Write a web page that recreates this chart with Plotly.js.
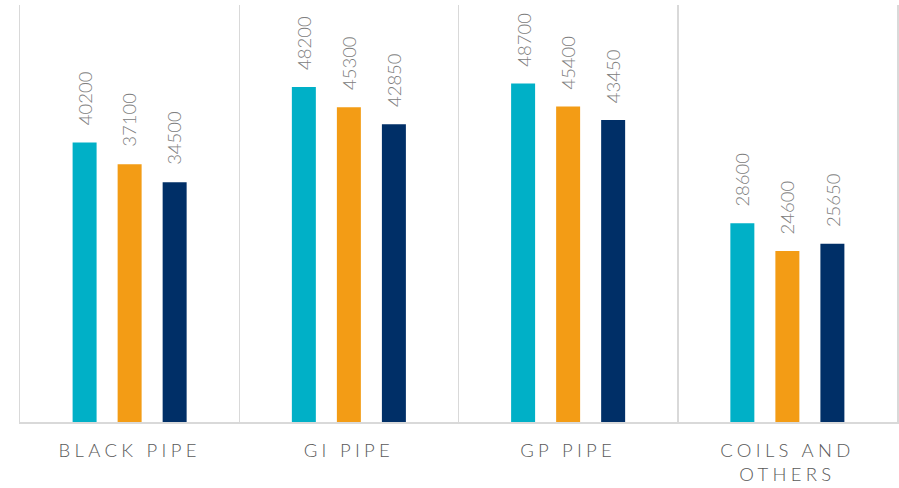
<!DOCTYPE html>
<html>
<head>
<meta charset="utf-8">
<script src="https://cdn.plot.ly/plotly-3.0.1.min.js"></script>
<style>
  html, body { margin: 0; padding: 0; background: #fff; }
  #chart { width: 899px; height: 488px; }
  .xtick text { letter-spacing: 4.3px; }
</style>
</head>
<body>
<div id="chart"></div>
<script>
// Product categories along the x axis
const categories = ["BLACK PIPE", "GI PIPE", "GP PIPE", "COILS AND<br>OTHERS"];

// Three series per category
const seriesA = [40200, 48200, 48700, 28600];
const seriesB = [37100, 45300, 45400, 24600];
const seriesC = [34500, 42850, 43450, 25650];

const seriesList = [seriesA, seriesB, seriesC];
const colors = ["#00b0c7", "#f39c15", "#002f67"];
const labelShift = [-45, 0, 45];

const traces = seriesList.map((vals, i) => ({
  type: "bar",
  x: categories,
  y: vals,
  marker: { color: colors[i] },
  hoverinfo: "skip"
}));

// Vertical value labels above each bar
const annotations = [];
seriesList.forEach((vals, i) => {
  vals.forEach((v, j) => {
    annotations.push({
      x: categories[j],
      y: v,
      xref: "x",
      yref: "y",
      text: String(v),
      textangle: -90,
      showarrow: false,
      xanchor: "center",
      yanchor: "bottom",
      xshift: labelShift[i],
      yshift: 15,
      font: { family: "Lato, 'DejaVu Sans', sans-serif", size: 18.5, weight: 300, color: "#808080" }
    });
  });
});

const layout = {
  width: 899,
  height: 488,
  margin: { l: 20, r: 2, t: 5, b: 66 },
  paper_bgcolor: "#ffffff",
  plot_bgcolor: "#ffffff",
  showlegend: false,
  barmode: "group",
  bargap: 0.384,
  bargroupgap: 0.467,
  xaxis: {
    type: "category",
    range: [-0.5, 3.5],
    tickson: "boundaries",
    showgrid: true,
    gridcolor: "#d9d9d9",
    gridwidth: 1.5,
    showline: true,
    linecolor: "#d9d9d9",
    linewidth: 2,
    ticks: "",
    ticklabelstandoff: 11,
    tickfont: { family: "Lato, 'DejaVu Sans', sans-serif", size: 18.5, weight: 300, color: "#595959" },
    fixedrange: true
  },
  yaxis: {
    range: [0, 60000],
    showgrid: false,
    zeroline: false,
    showticklabels: false,
    showline: true,
    mirror: true,
    linecolor: "#d9d9d9",
    linewidth: 1.5,
    ticks: "",
    fixedrange: true
  },
  annotations: annotations
};

Plotly.newPlot("chart", traces, layout, { displayModeBar: false, staticPlot: true });
</script>
</body>
</html>
